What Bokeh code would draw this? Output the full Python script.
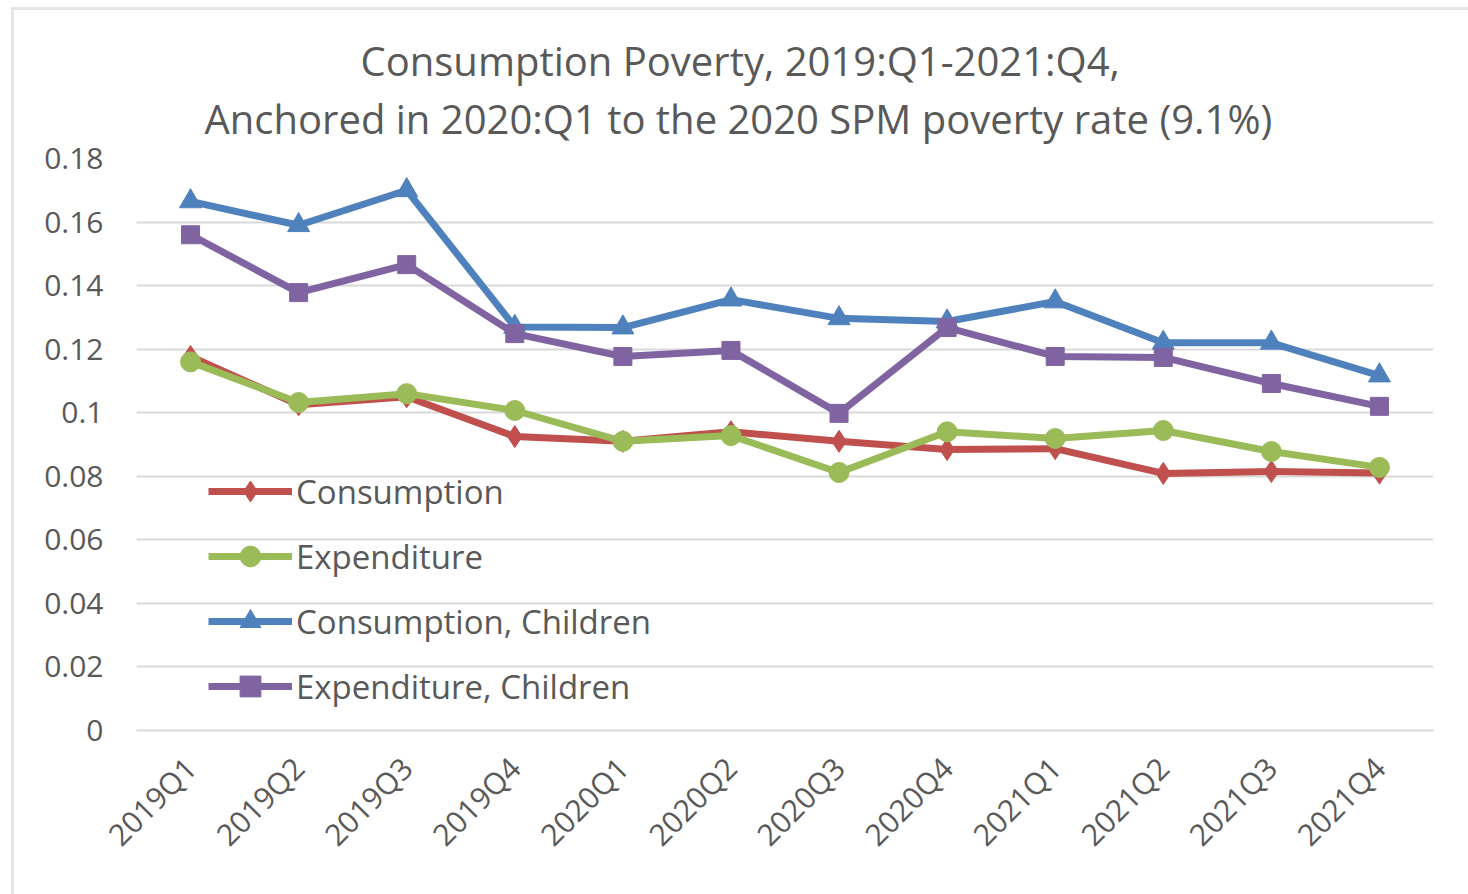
import math
from bokeh.plotting import figure
from bokeh.models import (FixedTicker, Legend, LegendItem, ColumnDataSource, Title)
from bokeh.embed import file_html
from bokeh.resources import INLINE

quarters = ["2019Q1", "2019Q2", "2019Q3", "2019Q4", "2020Q1", "2020Q2",
            "2020Q3", "2020Q4", "2021Q1", "2021Q2", "2021Q3", "2021Q4"]
consumption = [0.1177, 0.1025, 0.1050, 0.0925, 0.0910, 0.0940,
               0.0910, 0.0884, 0.0887, 0.0809, 0.0815, 0.0810]
expenditure = [0.1160, 0.1032, 0.1060, 0.1007, 0.0910, 0.0928,
               0.0812, 0.0940, 0.0919, 0.0944, 0.0878, 0.0828]
consumption_children = [0.1665, 0.1590, 0.1700, 0.1270, 0.1268, 0.1356,
                        0.1297, 0.1287, 0.1350, 0.1220, 0.1220, 0.1117]
expenditure_children = [0.1560, 0.1378, 0.1466, 0.1249, 0.1177, 0.1196,
                        0.0998, 0.1268, 0.1177, 0.1174, 0.1092, 0.1020]
y_ticks = [0, 0.02, 0.04, 0.06, 0.08, 0.1, 0.12, 0.14, 0.16, 0.18]
y_tick_labels = ["0", "0.02", "0.04", "0.06", "0.08", "0.1", "0.12", "0.14", "0.16", "0.18"]
title_lines = ["Consumption Poverty, 2019:Q1-2021:Q4,",
               "Anchored in 2020:Q1 to the 2020 SPM poverty rate (9.1%)"]

FONT = "Open Sans"
TXT = "#595959"

p = figure(width=1457, height=887, x_range=quarters, y_range=(0, 0.18),
           output_backend="svg", toolbar_location=None,
           min_border_left=122, min_border_right=38, min_border_top=148,
           min_border_bottom=167)
p.margin = (7, 0, 0, 11)
p.styles = {"border-top": "3px solid #e6e6e6", "border-left": "3px solid #e6e6e6",
            "box-sizing": "border-box"}
p.outline_line_color = None
p.background_fill_color = "white"
p.border_fill_color = "white"

p.xgrid.grid_line_color = None
p.ygrid.grid_line_color = "#d9d9d9"
p.ygrid.grid_line_width = 2

p.yaxis.ticker = FixedTicker(ticks=y_ticks)
p.yaxis.major_label_overrides = {t: l for t, l in zip(y_ticks, y_tick_labels)}
p.yaxis.axis_line_color = None
p.yaxis.major_tick_line_color = None
p.yaxis.minor_tick_line_color = None
p.yaxis.major_label_text_font = FONT
p.yaxis.major_label_text_font_size = "30px"
p.yaxis.major_label_text_color = TXT
p.yaxis.major_label_standoff = 27

p.xaxis.axis_line_color = "#d9d9d9"
p.xaxis.axis_line_width = 2
p.xaxis.major_tick_line_color = None
p.xaxis.major_label_orientation = math.pi / 4
p.xaxis.major_label_text_font = FONT
p.xaxis.major_label_text_font_size = "30px"
p.xaxis.major_label_text_color = TXT
p.xaxis.major_label_standoff = 26

series = [
    ("Consumption", consumption, "#C0504D", "diamond", 22),
    ("Expenditure", expenditure, "#9BBB59", "circle", 20),
    ("Consumption, Children", consumption_children, "#4F81BD", "triangle", 22),
    ("Expenditure, Children", expenditure_children, "#8064A2", "square", 18),
]

items = []
for name, vals, color, marker, size in series:
    src = ColumnDataSource(dict(x=quarters, y=vals))
    l = p.line("x", "y", source=src, line_color=color, line_width=7)
    s = p.scatter("x", "y", source=src, marker=marker, size=size,
                  fill_color=color, line_color=color)
    items.append(LegendItem(label=name, renderers=[l, s]))

legend = Legend(items=items, location=(72, 18), orientation="vertical",
                label_text_font=FONT, label_text_font_size="33px",
                label_text_color=TXT, glyph_width=84, glyph_height=52,
                label_height=52, spacing=13, label_standoff=4,
                background_fill_alpha=0, border_line_color=None, padding=0)
p.add_layout(legend, "center")

# spacer between frame and second title line
p.add_layout(Title(text=" ", text_font_size="10px", standoff=0), "above")
p.add_layout(Title(text=title_lines[1], align="left", offset=68,
                   text_font=FONT, text_font_size="40px",
                   text_font_style="normal", text_color=TXT, standoff=0), "above")
p.add_layout(Title(text=title_lines[0], align="left", offset=224,
                   text_font=FONT, text_font_size="40px",
                   text_font_style="normal", text_color=TXT, standoff=2), "above")

open("out.html", "w").write(file_html(p, INLINE))
